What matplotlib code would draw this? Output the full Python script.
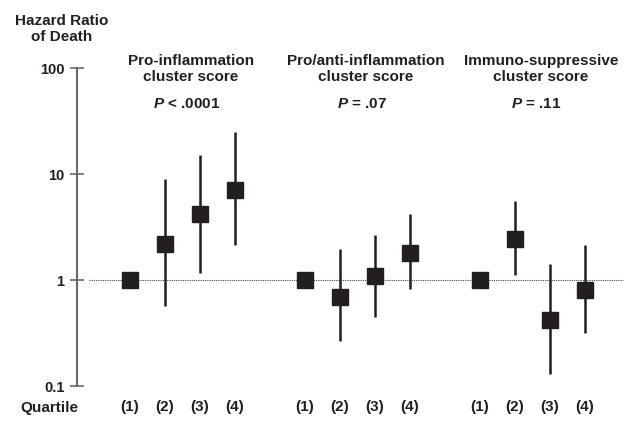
import matplotlib
matplotlib.use("Agg")
import matplotlib.pyplot as plt
import matplotlib.transforms as mtransforms

plt.rcParams['font.family'] = ['Liberation Sans', 'DejaVu Sans']
plt.rcParams['font.weight'] = 'bold'
plt.rcParams['mathtext.fontset'] = 'custom'
plt.rcParams['mathtext.it'] = 'Liberation Sans:italic:bold'
plt.rcParams['mathtext.rm'] = 'Liberation Sans:bold'
plt.rcParams['mathtext.bf'] = 'Liberation Sans:bold'

# ---- data ----
groups = ["Pro-inflammation\ncluster score",
          "Pro/anti-inflammation\ncluster score",
          "Immuno-suppressive\ncluster score"]
pvalues = ["< .0001", "= .07", "= .11"]
quartiles = ["(1)", "(2)", "(3)", "(4)"]
hr = [[1.0, 2.2, 4.2, 7.1],
      [1.0, 0.69, 1.08, 1.79],
      [1.0, 2.42, 0.42, 0.80]]
ci_low = [[1.0, 0.57, 1.17, 2.12],
          [1.0, 0.264, 0.45, 0.82],
          [1.0, 1.12, 0.129, 0.316]]
ci_high = [[1.0, 8.9, 15.1, 24.9],
           [1.0, 1.97, 2.64, 4.2],
           [1.0, 5.56, 1.41, 2.14]]
yticks = [0.1, 1, 10, 100]
yticklabels = ["0.1", "1", "10", "100"]

W, H = 632, 429
fig = plt.figure(figsize=(W / 100, H / 100), dpi=100)
# axes region in pixels: left 77, right 627, top 68, bottom 386
ax = fig.add_axes([77 / W, (H - 386) / H, 550 / W, (386 - 68) / H])
ax.set_yscale('log')
ax.set_ylim(0.1, 100)
ax.set_xlim(-0.51, 15.2)

dark = '#231f20'
for g in range(3):
    xs = [g * 5 + 1 + i for i in range(4)]
    for i in range(4):
        ax.plot([xs[i], xs[i]], [ci_low[g][i], ci_high[g][i]],
                color=dark, lw=1.8, solid_capstyle='butt', zorder=3)
    ax.plot(xs, hr[g], linestyle='none', marker='s', markersize=12,
            color=dark, markeredgecolor=dark, zorder=4)

ax.hlines(1, -0.17, 15.09, colors='#444444', linestyles=(0, (1, 1)), lw=0.8, zorder=2)

for s in ['top', 'right', 'bottom']:
    ax.spines[s].set_visible(False)
ax.spines['left'].set_color('#6a6a6a')
ax.spines['left'].set_linewidth(1.5)
ax.set_xticks([])
ax.set_yticks(yticks)
ax.set_yticklabels(yticklabels)
ax.yaxis.set_minor_locator(matplotlib.ticker.NullLocator())
ax.tick_params(axis='y', direction='inout', length=10, width=1.2, color='#6a6a6a',
               labelsize=10.5, pad=4, labelcolor=dark)
for lab in ax.get_yticklabels():
    lab.set_fontweight('bold')

tr = mtransforms.blended_transform_factory(ax.transData, fig.transFigure)

def fy(ypix):
    return 1 - ypix / H

fig.text(62 / W, fy(29), "Hazard Ratio\nof Death", ha='center', va='center',
         fontsize=11, fontweight='bold', color=dark, linespacing=1.15)

for g in range(3):
    x0 = g * 5 + 1
    ax.text(x0 + 1.74, fy(69), groups[g], transform=tr, ha='center', va='center',
            fontsize=11, fontweight='bold', color=dark, linespacing=1.15)
    ax.text(x0 + 1.62, fy(104), r"$P$ " + pvalues[g], transform=tr,
            ha='center', va='center', fontsize=11, fontweight='bold', color=dark)
    for i in range(4):
        ax.text(x0 + i, fy(407), quartiles[i], transform=tr, ha='center', va='center',
                fontsize=11, fontweight='bold', color=dark)

fig.text(49 / W, fy(408), "Quartile", ha='center', va='center',
         fontsize=11, fontweight='bold', color=dark)

fig.savefig("out.png", dpi=100)
